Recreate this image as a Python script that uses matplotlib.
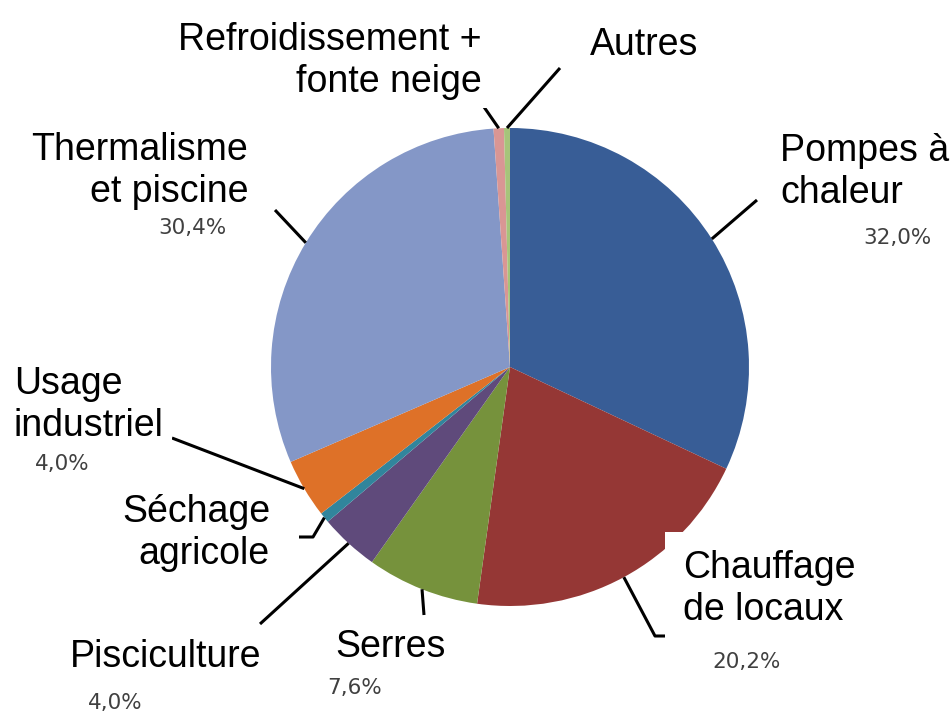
import numpy as np
import matplotlib.pyplot as plt

plt.rcParams["font.family"] = ["Liberation Sans", "DejaVu Sans"]

# --- données ---
labels = ["Pompes à\nchaleur", "Chauffage\nde locaux", "Serres", "Pisciculture",
          "Séchage\nagricole", "Usage\nindustriel", "Thermalisme\net piscine",
          "Refroidissement +\nfonte neige", "Autres"]
values = [32.0, 20.2, 7.6, 4.0, 0.7, 4.0, 30.4, 0.7, 0.4]
pct_text = ["32,0%", "20,2%", "7,6%", "4,0%", None, "4,0%", "30,4%", None, None]
colors = ["#385D96", "#953735", "#76923C", "#5F4A7B", "#31859C",
          "#DE7128", "#8497C7", "#D99694", "#A6C47A"]

W, H = 951, 715
fig = plt.figure(figsize=(W / 100, H / 100), dpi=100)
ax = fig.add_axes([0, 0, 1, 1])

cx, cy, r = 510, H - 367, 239
wedges, _ = ax.pie(values, colors=colors, startangle=90, counterclock=False,
                   radius=r, center=(cx, cy), wedgeprops=dict(linewidth=0))
ax.set_xlim(0, W)
ax.set_ylim(0, H)
ax.set_aspect("equal")
ax.axis("off")

def P(x, y):
    return (x, H - y)

# placement des étiquettes (pixels, y depuis le haut)
layout = [
    dict(xy=(780, 172), ha="left", pct=(897, 238), path=[(757, 200)], pad=6),
    dict(xy=(683, 589), ha="left", pct=(747, 662), path=[(655, 636), (668, 636)], pad=13),
    dict(xy=(391, 647), ha="center", pct=(355, 688), path=[(424, 615)], pad=6),
    dict(xy=(166, 657), ha="center", pct=(115, 703), path=[(260, 624)], pad=6),
    dict(xy=(270, 533), ha="right", pct=None, path=[(313, 537), (299, 537)], pad=6),
    dict(xy=(14, 405), ha="left", pct=(62, 464), path=[(172, 438)], pad=6),
    dict(xy=(248, 171), ha="right", pct=(192, 228), path=[(275, 210)], pad=6),
    dict(xy=(482, 61), ha="right", pct=None, path=[(484, 107)], pad=6),
    dict(xy=(590, 45), ha="left", pct=None, path=[(560, 68)], pad=6),
]

for w, lab, pt, lay in zip(wedges, labels, pct_text, layout):
    ang = np.deg2rad((w.theta1 + w.theta2) / 2)
    x0, y0 = cx + r * np.cos(ang), cy + r * np.sin(ang)
    xs = [x0] + [p[0] for p in lay["path"]]
    ys = [y0] + [H - p[1] for p in lay["path"]]
    ax.plot(xs, ys, color="black", lw=2.2, solid_capstyle="butt", zorder=3)
    bbox = dict(facecolor="white", edgecolor="none", pad=lay["pad"])
    ax.text(*P(*lay["xy"]), lab, ha=lay["ha"], va="center", fontsize=27,
            linespacing=1.22, color="black", bbox=bbox, zorder=4)
    if pt:
        ax.text(*P(*lay["pct"]), pt, ha="center", va="center", fontsize=15.5,
                family="DejaVu Sans", color="#404040", zorder=5)

fig.savefig("out.png", dpi=100)
